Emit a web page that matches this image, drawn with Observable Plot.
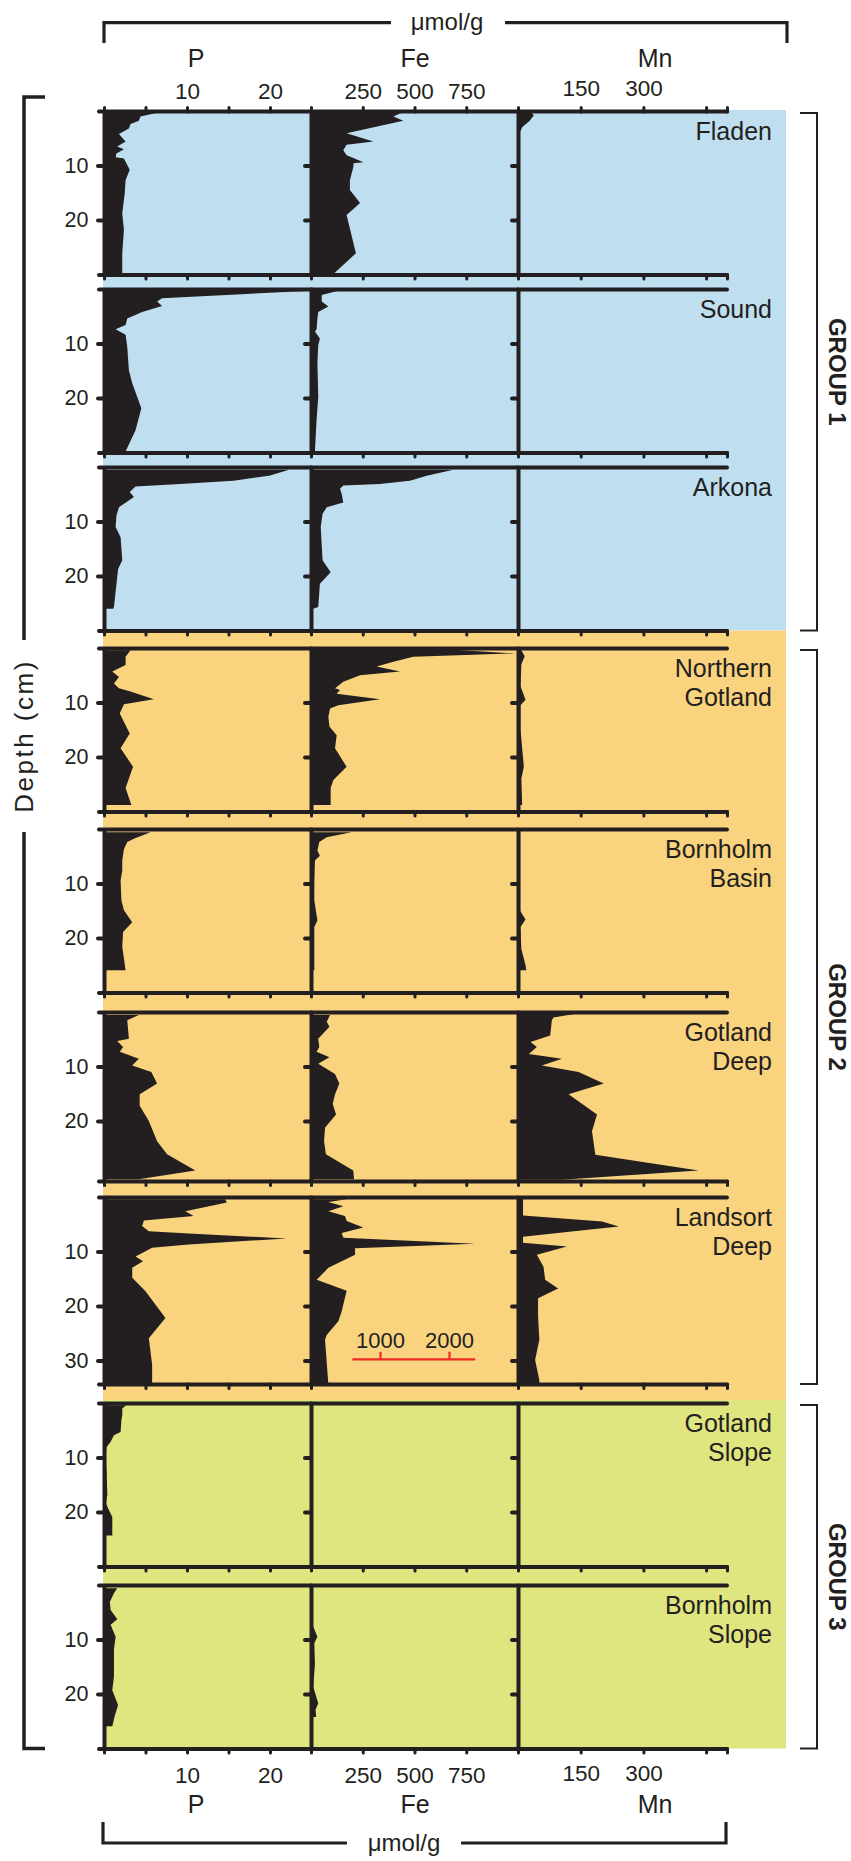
<!DOCTYPE html>
<html>
<head>
<meta charset="utf-8">
<title>P, Fe and Mn sediment profiles</title>
<script src="https://cdn.jsdelivr.net/npm/d3@7"></script>
<script src="https://cdn.jsdelivr.net/npm/@observablehq/plot@0.6"></script>
<style>
  html, body { margin: 0; background: #fff; }
  #figure { position: relative; width: 851px; height: 1861px; overflow: hidden;
    font-family: "Liberation Sans", Arial, Helvetica, sans-serif; color: #231f20; }
  #figure > svg { position: absolute; overflow: visible; }
</style>
</head>
<body>
<div id="figure"></div>
<script>
// ---------- chart data ----------
const elements = ["P", "Fe", "Mn"];
const stations = ["Fladen", "Sound", "Arkona", "Northern\nGotland", "Bornholm\nBasin",
  "Gotland\nDeep", "Landsort\nDeep", "Gotland\nSlope", "Bornholm\nSlope"];
const coreLength = [30, 30, 30, 30, 30, 31, 34.3, 30, 30];   // cm shown for each core
const groupNames = ["GROUP 1", "GROUP 2", "GROUP 3"];
const groupStations = [[0, 2], [3, 6], [7, 8]];             // first and last core of each group
const xMax = {P: 25, Fe: 1000, Mn: 500};
const landsortFeMax = 3000;                                  // Landsort Fe has its own scale
const tickValues = {P: [0, 5, 10, 15, 20], Fe: [0, 250, 500, 750], Mn: [0, 150, 300, 450, 500]};
const tickLabels = {P: [10, 20], Fe: [250, 500, 750], Mn: [150, 300]};
const depthTicks = [10, 20];
const landsortDepthTicks = [10, 20, 30];
const scaleBarTicks = [1000, 2000];
const scaleBarSpan = [600, 2380];
const scaleBarDepth = 29.7;
const unitLabel = "\u03bcmol/g";
const depthLabel = "Depth (cm)";

// profiles: [depth (cm), concentration (µmol/g)]
const fladenP = [[0.2,6.8],[1.0,4.4],[1.8,4.2],[2.4,3.2],[3.2,3.0],[4.2,1.8],[5.6,2.6],[6.5,1.6],[7.0,2.4],[7.8,1.5],[8.5,1.4],[8.7,2.4],[10.8,3.1],[12.7,2.6],[15.1,2.5],[18.8,2.2],[21.8,2.4],[26.1,2.2],[29.8,2.2]];
const fladenFe = [[0.2,446],[1.0,398],[1.8,446],[4.1,172],[5.6,301],[6.2,172],[7.2,156],[8.1,172],[8.5,196],[9.4,253],[9.6,205],[10.2,205],[12.7,188],[14.5,188],[16.9,237],[19.1,172],[26.1,217],[29.8,111]];
const fladenMn = [[0.2,30],[0.8,38],[1.8,28],[3.0,10],[4.0,4],[29.8,3]];

const soundP = [[0.3,24.9],[1.7,7.0],[2.3,6.4],[3.1,7.0],[4.2,4.6],[5.4,2.8],[6.6,2.6],[7.4,1.4],[8.4,2.6],[10.6,2.8],[14.9,3.0],[17.3,3.4],[21.9,4.5],[25.9,3.8],[29.8,2.6]];
const soundFe = [[0.3,132],[1.1,52],[2.3,52],[3.2,84],[4.2,35],[5.4,31],[7.4,27],[7.8,19],[9.1,43],[10.3,35],[13.6,31],[19.8,35],[24.0,27],[29.8,19]];
const soundMn = [];

const arkonaP = [[0.5,22.3],[1.6,19.9],[2.5,15.6],[3.1,9.2],[3.6,3.8],[4.6,3.1],[5.5,3.6],[7.4,1.8],[8.9,1.5],[11.0,1.4],[12.9,2.0],[17.1,2.2],[18.7,1.7],[25.7,1.2],[26.0,1.1]];
const arkonaFe = [[0.5,688],[1.6,559],[2.5,478],[3.1,333],[3.4,156],[4.0,140],[4.9,148],[6.5,156],[7.4,76],[8.6,56],[11.0,47],[17.1,56],[19.3,95],[21.4,43],[25.7,35],[26.0,11]];
const arkonaMn = [];

const northGotlandP = [[0.4,3.2],[1.6,2.6],[3.1,2.6],[4.3,1.0],[5.3,1.8],[6.5,1.2],[7.4,1.8],[8.0,3.2],[9.4,6.0],[10.3,2.4],[12.0,1.9],[15.7,3.1],[18.4,2.0],[21.8,3.5],[25.7,2.6],[28.8,3.3]];
const northGotlandFe = [[0.25,655],[1.0,985],[1.6,494],[2.5,398],[3.4,317],[4.3,430],[5.0,237],[6.2,156],[7.4,116],[7.7,140],[8.4,124],[9.4,333],[10.5,132],[11.1,92],[12.6,84],[14.4,89],[16.0,124],[18.4,116],[21.8,172],[24.2,108],[25.7,95],[28.8,95]];
const northGotlandMn = [[0.4,8],[1.5,16],[3.0,8],[7.0,6],[9.5,18],[10.5,6],[15.0,6],[21.8,14],[24.0,8],[28.8,10]];

const bornholmBasinP = [[0.6,5.6],[1.8,3.6],[2.4,2.8],[3.7,2.4],[5.8,2.2],[7.6,2.2],[9.5,2.0],[13.1,2.1],[14.9,2.4],[17.1,3.4],[18.9,2.3],[21.6,2.2],[25.9,2.6]];
const bornholmBasinFe = [[0.6,196],[1.5,76],[2.4,40],[4.0,31],[4.9,43],[5.8,19],[10.1,16],[13.1,16],[16.8,31],[18.0,16],[25.9,16]];
const bornholmBasinMn = [[0.6,5],[15.0,5],[16.6,18],[18.0,6],[22.0,8],[25.0,18],[25.9,20]];

const gotlandDeepP = [[0.55,4.2],[1.5,2.8],[4.9,3.0],[5.3,1.6],[6.4,2.3],[7.3,1.9],[8.6,4.2],[9.8,3.4],[11.0,5.7],[13.1,6.4],[15.1,4.3],[17.2,4.3],[20.0,5.4],[23.7,6.4],[26.1,7.6],[29.1,11.0],[30.7,4.2]];
const gotlandDeepFe = [[0.55,92],[1.8,76],[2.7,89],[4.9,35],[6.4,40],[7.3,27],[8.3,89],[9.5,35],[11.4,116],[13.1,137],[15.1,116],[16.9,105],[18.8,121],[21.2,68],[23.7,63],[26.1,72],[29.1,204],[30.7,208]];
const gotlandDeepMn = [[0.25,145],[1.0,85],[1.5,81],[4.3,77],[5.5,30],[6.4,45],[7.7,26],[8.6,105],[9.8,57],[11.0,145],[13.1,205],[15.1,121],[18.8,189],[21.9,177],[26.2,185],[29.1,432],[30.8,105]];

const landsortDeepP = [[0.4,14.6],[1.0,14.8],[2.6,9.8],[3.5,10.8],[4.3,4.8],[5.3,4.6],[6.3,5.4],[6.7,10.2],[7.6,22.0],[8.7,10.2],[9.3,5.8],[10.9,3.8],[11.8,4.7],[13.0,3.4],[14.8,3.4],[17.3,5.0],[22.2,7.4],[25.9,5.4],[30.8,5.8],[34.3,5.8]];
const landsortDeepFe = [[0.4,517],[0.9,251],[1.7,469],[2.6,251],[3.5,493],[4.4,517],[5.6,758],[6.6,444],[7.5,469],[8.6,2377],[9.4,638],[10.6,638],[13.0,251],[15.2,82],[17.2,517],[21.0,444],[22.8,396],[25.3,227],[26.2,203],[30.2,227],[34.3,251]];
const landsortDeepMn = [[0.3,12],[3.4,12],[4.5,201],[5.4,241],[6.2,145],[7.3,12],[8.4,12],[9.1,117],[10.6,45],[12.8,61],[15.2,65],[16.8,96],[18.6,48],[21.9,48],[26.2,51],[29.9,41],[33.6,51],[34.3,51]];

const gotlandSlopeP = [[0.4,2.7],[1.0,2.2],[2.2,2.2],[3.1,2.1],[5.3,2.0],[5.9,1.2],[7.1,0.8],[8.1,0.3],[9.8,0.2],[12.3,0.3],[16.9,0.4],[18.4,0.2],[20.9,1.0],[22.7,1.0],[24.3,1.0]];
const gotlandSlopeFe = [];
const gotlandSlopeMn = [];

const bornholmSlopeP = [[0.6,1.6],[1.5,1.2],[3.1,0.7],[4.6,0.8],[6.3,1.6],[7.3,0.8],[9.5,1.4],[11.9,1.2],[16.8,1.2],[19.3,1.0],[22.0,1.7],[24.0,1.3],[25.9,1.0]];
const bornholmSlopeFe = [[7.0,4],[9.5,31],[10.7,16],[14.4,19],[18.7,11],[21.7,35],[22.9,22],[24.2,25]];
const bornholmSlopeMn = [];

const profiles = [
  {P: fladenP, Fe: fladenFe, Mn: fladenMn},
  {P: soundP, Fe: soundFe, Mn: soundMn},
  {P: arkonaP, Fe: arkonaFe, Mn: arkonaMn},
  {P: northGotlandP, Fe: northGotlandFe, Mn: northGotlandMn},
  {P: bornholmBasinP, Fe: bornholmBasinFe, Mn: bornholmBasinMn},
  {P: gotlandDeepP, Fe: gotlandDeepFe, Mn: gotlandDeepMn},
  {P: landsortDeepP, Fe: landsortDeepFe, Mn: landsortDeepMn},
  {P: gotlandSlopeP, Fe: gotlandSlopeFe, Mn: gotlandSlopeMn},
  {P: bornholmSlopeP, Fe: bornholmSlopeFe, Mn: bornholmSlopeMn}
];

// ---------- layout ----------
const INK = "#231f20";
const RED = "#ee2a24";
const groupColors = ["#bfdff0", "#f9d37e", "#dfe57f"];
const FONT = "'Liberation Sans', Arial, Helvetica, sans-serif";
const PX_PER_CM = 5.45;
const colLeft = {P: 103.5, Fe: 311, Mn: 517.5};
const colWidth = {P: 207.5, Fe: 207, Mn: 209};
const panelTop = [111, 289, 467, 648, 829, 1012, 1197, 1403, 1585];
const panelBottom = panelTop.map((t, i) => t + coreLength[i] * PX_PER_CM);
const LANDSORT = 6;

const fig = document.getElementById("figure");

// coloured group backgrounds
const under = d3.create("svg").attr("width", 851).attr("height", 1861).style("left", "0px").style("top", "0px");
const bandEdges = [panelTop[0] - 1, panelBottom[2], panelTop[7] - 3, panelBottom[8]];
groupColors.forEach((c, g) => {
  under.append("rect").attr("x", 103).attr("width", 786 - 103)
    .attr("y", bandEdges[g]).attr("height", bandEdges[g + 1] - bandEdges[g]).attr("fill", c);
});
fig.appendChild(under.node());

// one small plot per core and element
const ML = 60, MR = 60, MT = 50, MB = 50;
function drawCell(s, el) {
  const D = coreLength[s];
  const landsortFe = s === LANDSORT && el === "Fe";
  const max = landsortFe ? landsortFeMax : xMax[el];
  const w = colWidth[el], h = D * PX_PER_CM;
  const rows = profiles[s][el].map(([d, v]) => ({d, v}));
  const first = s === 0, last = s === stations.length - 1;
  const marks = [];
  if (rows.length) marks.push(Plot.areaX(rows, {x: "v", y: "d", fill: INK, curve: "linear"}));

  // core frame: top and bottom rules, element axis on the left
  marks.push(Plot.ruleY([0, D], {stroke: INK, strokeWidth: 4, strokeLinecap: "round", insetLeft: el === "P" ? -5 : 0}));
  marks.push(Plot.ruleX([0], {y1: 0, y2: D, stroke: INK, strokeWidth: 4}));

  // depth ticks (labelled on the P column only)
  marks.push(Plot.axisY(s === LANDSORT ? landsortDepthTicks : depthTicks, {
    anchor: "left", tickSize: 6, tickPadding: 10, strokeWidth: 4, strokeLinecap: "round",
    fill: el === "P" ? INK : "none", fontSize: 21.5, fontFamily: FONT, label: null
  }));

  // concentration ticks under each core
  marks.push(Plot.axisX(landsortFe ? [0] : tickValues[el], {
    anchor: "bottom", tickSize: 4.5, strokeWidth: 3, strokeLinecap: "round", fill: "none", label: null
  }));
  if (first) {
    marks.push(Plot.axisX(tickValues[el], {anchor: "top", tickSize: 4.5, strokeWidth: 3, strokeLinecap: "round", fill: "none", label: null}));
    marks.push(Plot.axisX(tickLabels[el], {anchor: "top", tickSize: 0, tickPadding: el === "Mn" ? 16 : 13, fontSize: 22.5, fontFamily: FONT, fill: INK, label: null}));
  }
  if (last) {
    marks.push(Plot.axisX(tickLabels[el], {anchor: "bottom", tickSize: 0, tickPadding: el === "Mn" ? 16 : 18, fontSize: 22.5, fontFamily: FONT, fill: INK, label: null}));
  }

  // scale bar for the Landsort Fe profile
  if (landsortFe) {
    marks.push(Plot.ruleY([scaleBarDepth], {x1: scaleBarSpan[0], x2: scaleBarSpan[1], stroke: RED, strokeWidth: 2.2}));
    marks.push(Plot.ruleX(scaleBarTicks, {x: d => d, y1: scaleBarDepth - 1.3, y2: scaleBarDepth, stroke: RED, strokeWidth: 2.2}));
    marks.push(Plot.text(scaleBarTicks, {x: d => d, y: scaleBarDepth, dy: -18, text: d => String(d), fill: INK, fontSize: 22, fontFamily: FONT}));
  }

  const svg = Plot.plot({
    width: ML + w + MR,
    height: MT + h + MB,
    marginLeft: ML, marginRight: MR, marginTop: MT, marginBottom: MB,
    x: {domain: [0, max], range: [ML, ML + w], axis: null, label: null},
    y: {domain: [0, D], range: [MT, MT + h], axis: null, label: null},
    style: {background: "none", overflow: "visible", color: INK, fontFamily: FONT},
    marks
  });
  svg.style.position = "absolute";
  svg.style.left = (colLeft[el] - ML) + "px";
  svg.style.top = (panelTop[s] - MT) + "px";
  svg.style.maxWidth = "none";
  fig.appendChild(svg);
}
stations.forEach((_, s) => elements.forEach(el => drawCell(s, el)));

// ---------- annotations ----------
const over = d3.create("svg").attr("width", 851).attr("height", 1861)
  .style("left", "0px").style("top", "0px").attr("font-family", FONT).attr("fill", INK);

// element headers and unit brackets
const headerX = {P: 196, Fe: 415, Mn: 655};
elements.forEach(el => {
  over.append("text").attr("x", headerX[el]).attr("y", 67).attr("text-anchor", "middle").attr("font-size", 25).text(el);
  over.append("text").attr("x", headerX[el]).attr("y", 1813).attr("text-anchor", "middle").attr("font-size", 25).text(el);
});
over.append("path").attr("d", "M104,43V22.7H391M505,22.7H787V43").attr("fill", "none").attr("stroke", INK).attr("stroke-width", 3.2);
over.append("text").attr("x", 447).attr("y", 30).attr("text-anchor", "middle").attr("font-size", 24).text(unitLabel);
over.append("path").attr("d", "M103,1822V1843H347M461,1843H726V1822").attr("fill", "none").attr("stroke", INK).attr("stroke-width", 3.2);
over.append("text").attr("x", 404).attr("y", 1851).attr("text-anchor", "middle").attr("font-size", 24).text(unitLabel);

// depth bracket on the left
const depthMid = 736, depthGap = 96;
over.append("path").attr("d", `M45,97H24V${depthMid - depthGap}M24,${depthMid + depthGap}V${panelBottom[8]}H45`)
  .attr("fill", "none").attr("stroke", INK).attr("stroke-width", 3.5);
over.append("text").attr("transform", `translate(24,${depthMid}) rotate(-90)`).attr("text-anchor", "middle")
  .attr("dy", "0.35em").attr("font-size", 26).attr("letter-spacing", 2.5).text(depthLabel);

// core names
stations.forEach((name, s) => {
  const t = over.append("text").attr("x", 772).attr("y", panelTop[s] + 29).attr("text-anchor", "end").attr("font-size", 25);
  name.split("\n").forEach((line, i) => t.append("tspan").attr("x", 772).attr("dy", i ? 28.5 : 0).text(line));
});

// group brackets on the right
groupStations.forEach(([a, b], g) => {
  const top = panelTop[a] + 2, bottom = panelBottom[b];
  over.append("path").attr("d", `M800,${top}H817V${bottom}H800`).attr("fill", "none").attr("stroke", INK).attr("stroke-width", 2);
  over.append("text").attr("transform", `translate(837,${(top + bottom) / 2}) rotate(90)`).attr("text-anchor", "middle")
    .attr("dy", "0.35em").attr("font-size", 24).attr("font-weight", "bold").text(groupNames[g]);
});
fig.appendChild(over.node());
</script>
</body>
</html>
